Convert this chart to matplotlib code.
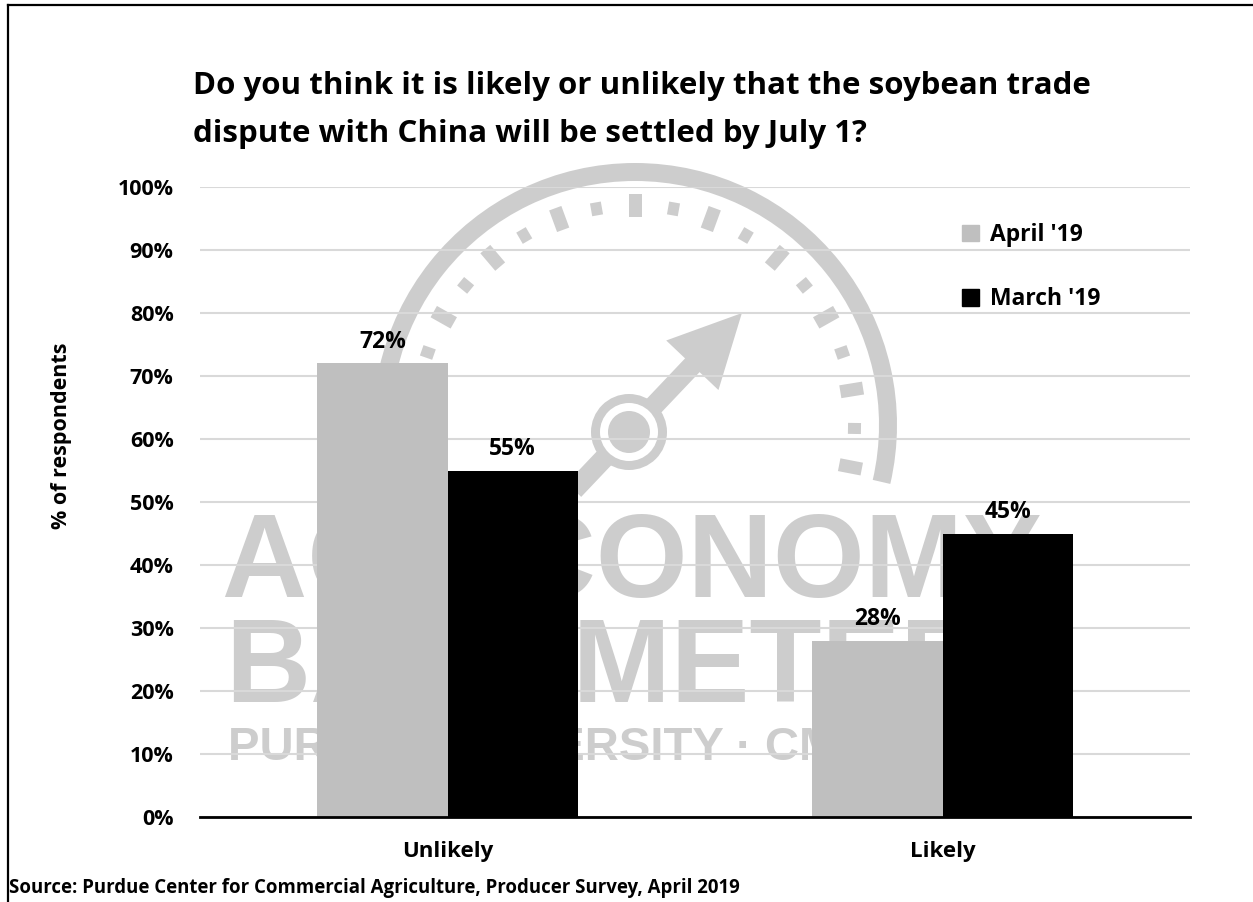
import numpy as np
import matplotlib
matplotlib.use("Agg")
import matplotlib.pyplot as plt
from matplotlib.patches import Wedge, Circle, Polygon, Patch
from matplotlib.lines import Line2D

plt.rcParams['font.family'] = ['Open Sans', 'DejaVu Sans']
plt.rcParams['font.weight'] = 'bold'

# data
categories = ['Unlikely', 'Likely']
april = [72, 28]
march = [55, 45]
series = ["April '19", "March '19"]
yticks = list(range(0, 101, 10))

title = ("Do you think it is likely or unlikely that the soybean trade\n"
         "dispute with China will be settled by July 1?")
source = "Source: Purdue Center for Commercial Agriculture, Producer Survey, April 2019"

W, H = 1253, 902
grey = '#bfbfbf'
wm = '#cdcdcd'

fig = plt.figure(figsize=(W / 100, H / 100), dpi=100)

# ---- watermark layer (pixel coords, y up) ----
wax = fig.add_axes([0, 0, 1, 1], zorder=0)
wax.set_xlim(0, W)
wax.set_ylim(0, H)
wax.axis('off')

def Y(y):
    return H - y

cx, cy = 635, Y(425)
wax.add_patch(Wedge((cx, cy), 262, -13, 193, width=18, color=wm, lw=0))

for k in range(-10, 11):
    a = np.radians(90 + 10.1 * k)
    if k % 2 == 0:
        r0, r1, w = 208, 231, 13
    else:
        r0, r1, w = 213, 226, 11
    u = np.array([np.cos(a), np.sin(a)])
    t = np.array([-np.sin(a), np.cos(a)])
    c = np.array([cx, cy])
    pts = [c + u * r0 - t * w / 2, c + u * r1 - t * w / 2,
           c + u * r1 + t * w / 2, c + u * r0 + t * w / 2]
    wax.add_patch(Polygon(pts, closed=True, color=wm, lw=0))

# needle
hx, hy = 629, Y(432)
a = np.radians(46.5)
u = np.array([np.cos(a), np.sin(a)])
t = np.array([-np.sin(a), np.cos(a)])
h = np.array([hx, hy])
shaft = [h - u * 80 - t * 10, h + u * 100 - t * 10,
         h + u * 100 + t * 10, h - u * 80 + t * 10]
wax.add_patch(Polygon(shaft, closed=True, color=wm, lw=0))
head = [h + u * 92 - t * 36, h + u * 164, h + u * 92 + t * 36]
wax.add_patch(Polygon(head, closed=True, color=wm, lw=0))
wax.add_patch(Circle((hx, hy), 38, color=wm, lw=0))
wax.add_patch(Circle((hx, hy), 29, color='white', lw=0))
wax.add_patch(Circle((hx, hy), 21, color=wm, lw=0))

wfam = ['Liberation Sans', 'DejaVu Sans']
wax.text(222, Y(597), 'AG ECONOMY', fontsize=85, color=wm, family=wfam,
         weight='bold', ha='left', va='baseline')
wax.text(225, Y(702), 'BAROMETER', fontsize=85, color=wm, family=wfam,
         weight='bold', ha='left', va='baseline')
wax.text(228, Y(760), 'PURDUE UNIVERSITY \u00b7 CME GROUP', fontsize=34,
         color=wm, family=wfam, weight='bold', ha='left', va='baseline')

# frame lines (top and left)
wax.add_line(Line2D([8, W], [Y(4.5), Y(4.5)], color='black', lw=1.6))
wax.add_line(Line2D([8, 8], [Y(4.5), 0], color='black', lw=1.6))

# ---- chart ----
ax = fig.add_axes([200 / W, 1 - 817 / H, 990 / W, 630 / H], zorder=1)
ax.patch.set_alpha(0)

x = np.arange(len(categories))
bw = 0.263
b1 = ax.bar(x - bw / 2, april, bw, color=grey, label=series[0], zorder=2)
b2 = ax.bar(x + bw / 2, march, bw, color='black', label=series[1], zorder=2)

for bars, vals in ((b1, april), (b2, march)):
    for rect, v in zip(bars, vals):
        ax.annotate(f'{v}%', (rect.get_x() + rect.get_width() / 2, v),
                    xytext=(0, 11), textcoords='offset points',
                    ha='center', va='baseline', fontsize=16.5, weight='bold')

ax.set_xlim(-0.5, 1.5)
ax.set_ylim(0, 100)
ax.set_yticks(yticks)
ax.set_yticklabels([f'{v}%' for v in yticks])
ax.set_xticks(x)
ax.set_xticklabels(categories)
ax.tick_params(axis='y', length=0, pad=19, labelsize=15.5)
ax.tick_params(axis='x', length=0, pad=17, labelsize=16)
ax.yaxis.grid(True, color='#d9d9d9', lw=1.5, zorder=1)
ax.set_axisbelow(True)
for s in ('left', 'right', 'top'):
    ax.spines[s].set_visible(False)
ax.spines['bottom'].set_color('black')
ax.spines['bottom'].set_linewidth(2)
ax.spines['bottom'].set_zorder(3)

handles = [Patch(color=grey), Patch(color='black')]
fig.legend(handles, series, loc='upper left',
           bbox_to_anchor=(962 / W, 1 - 223 / H), frameon=False,
           borderpad=0, borderaxespad=0, handlelength=0.75, handleheight=0.75,
           handletextpad=0.45, labelspacing=1.75,
           prop={'size': 16.5, 'weight': 'bold'})

fig.text(193 / W, 1 - 71 / H, title, ha='left', va='top', fontsize=22.5,
         weight='bold', linespacing=1.8)
fig.text(62 / W, 1 - 436 / H, '% of respondents', rotation=90, ha='center',
         va='center', fontsize=15.5, weight='bold')
fig.text(9 / W, 1 - 888 / H, source, ha='left', va='center', fontsize=13.4,
         weight='bold')

fig.savefig('out.png', dpi=100)
